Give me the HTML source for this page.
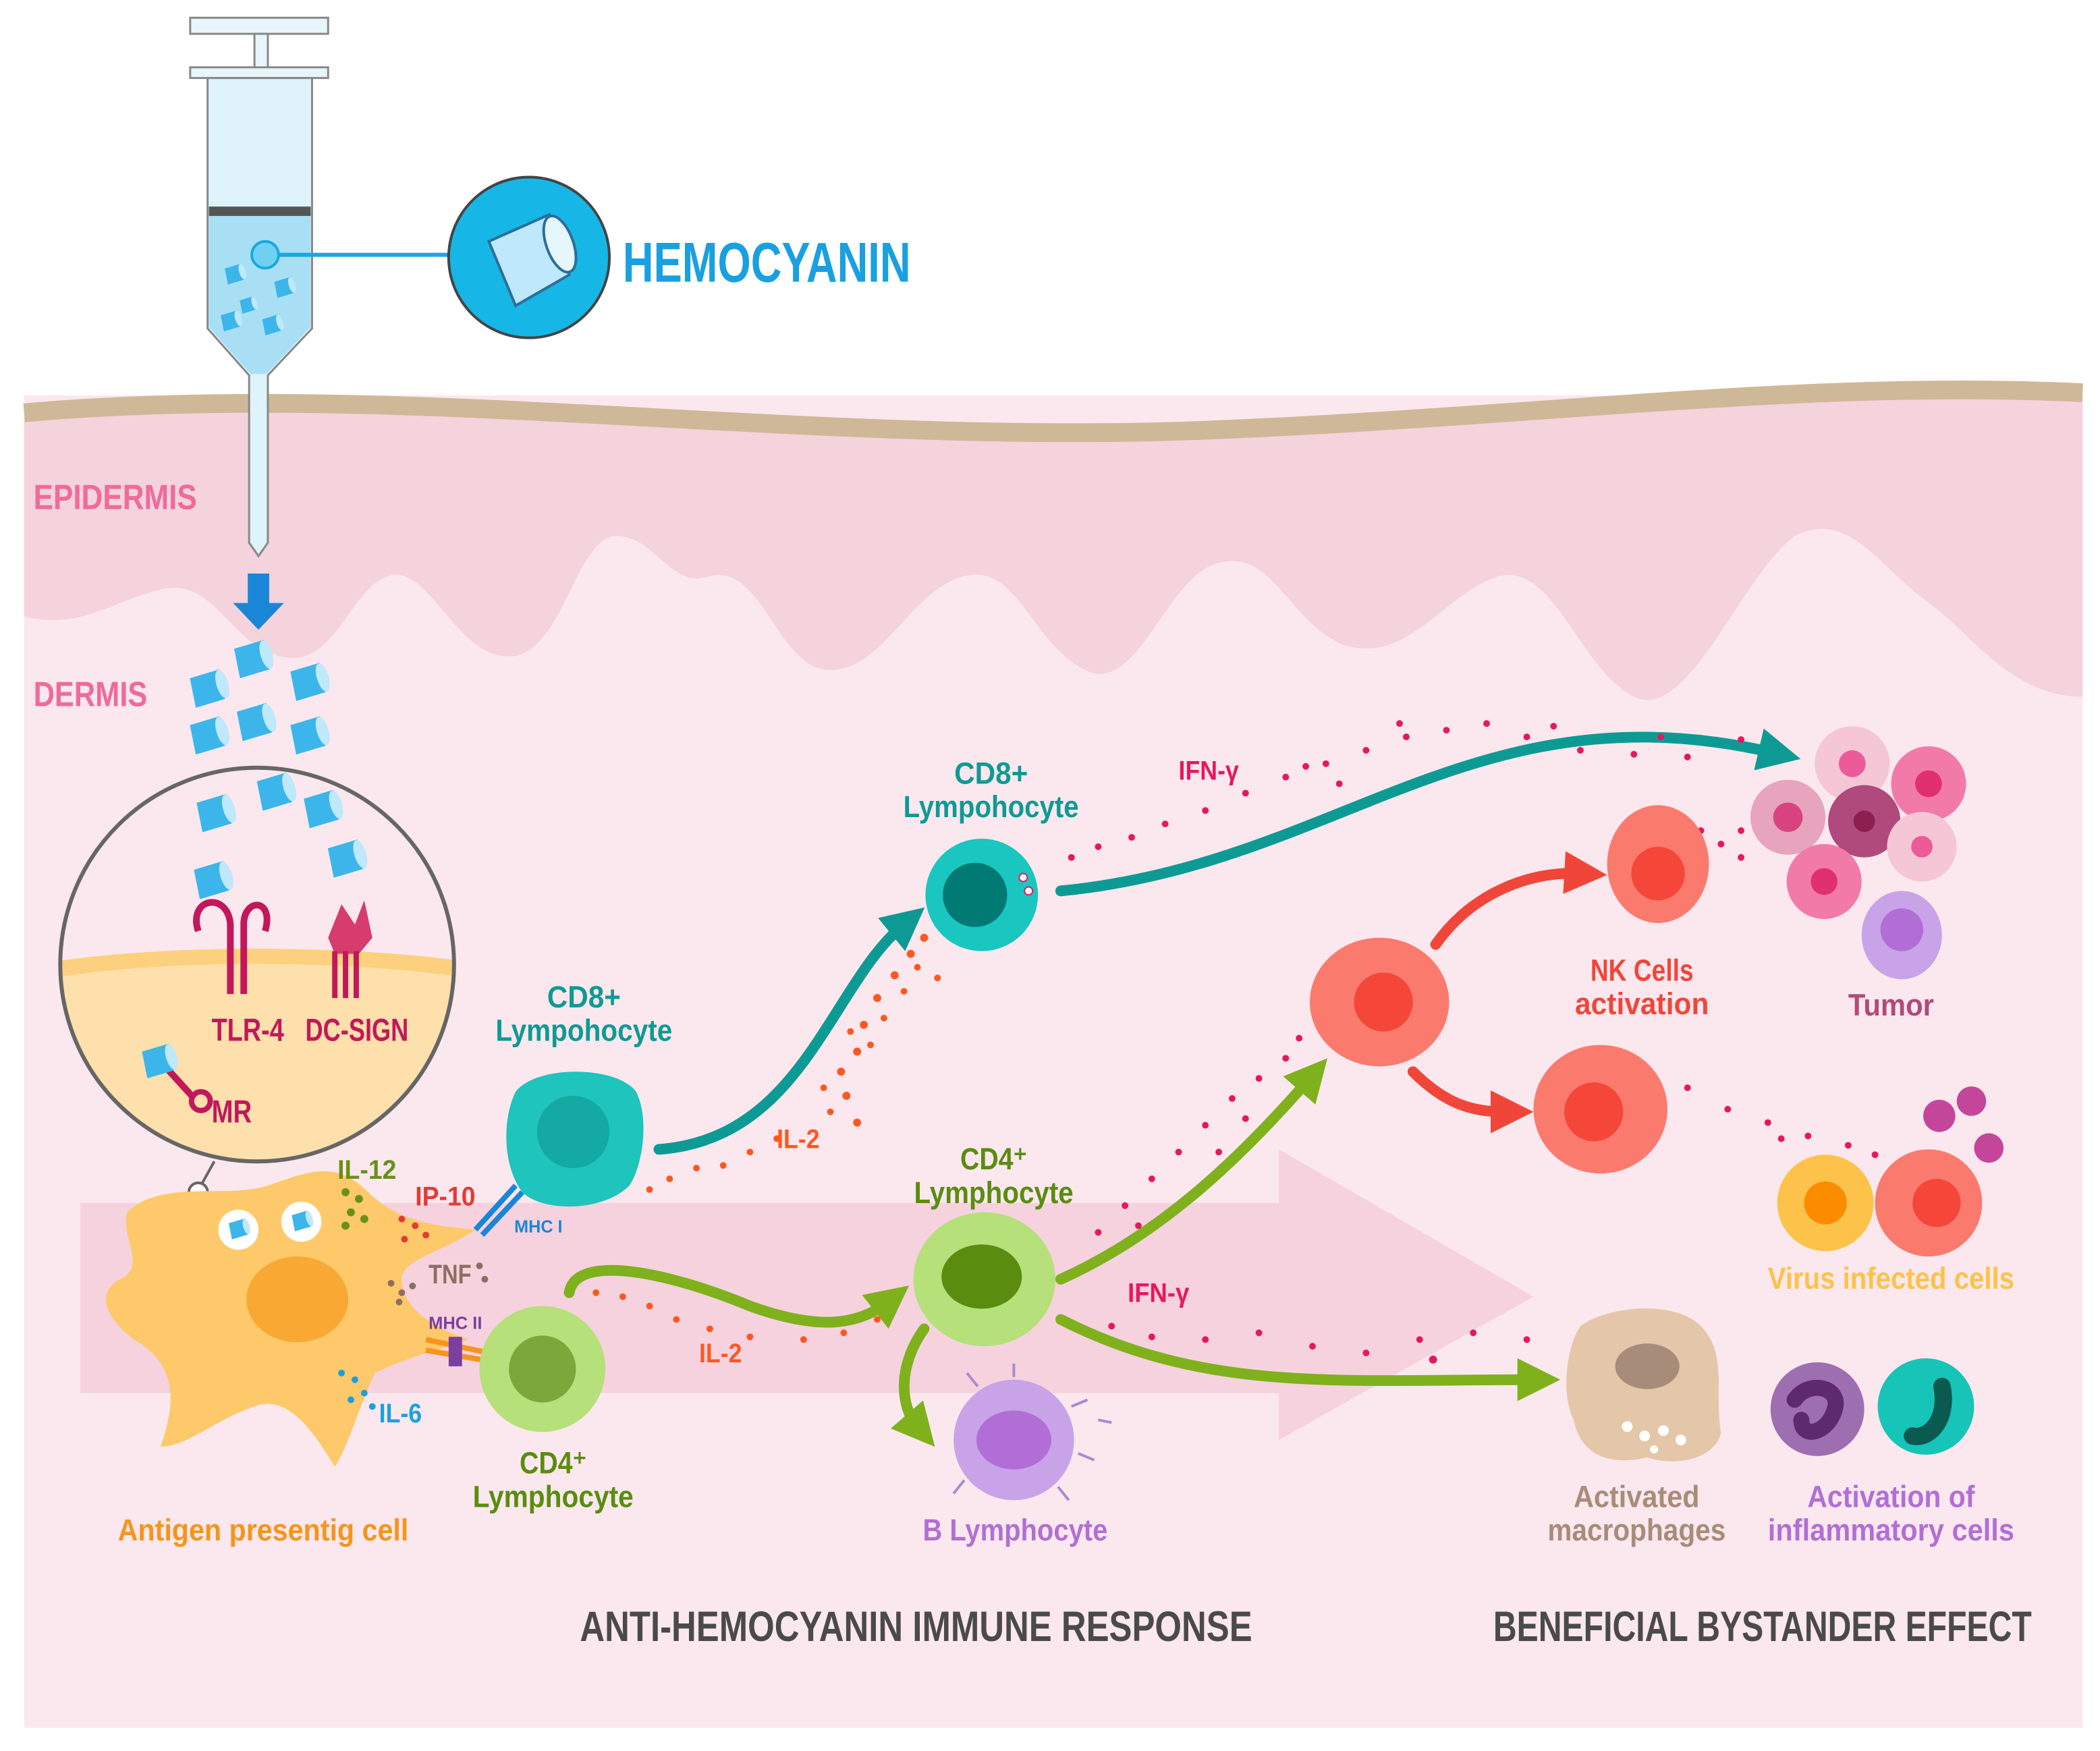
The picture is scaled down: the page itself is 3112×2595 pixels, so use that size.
<!DOCTYPE html>
<html><head><meta charset="utf-8">
<style>
html,body{margin:0;padding:0;background:#fff;}
svg{display:block;}
text{font-family:"Liberation Sans Narrow","Liberation Sans",sans-serif;font-weight:bold;}
</style></head>
<body>
<svg width="3112" height="2595" viewBox="0 0 1568 1307" xmlns="http://www.w3.org/2000/svg">
<defs>
<marker id="mt" markerWidth="4" markerHeight="4" refX="1.5" refY="2" orient="auto" markerUnits="strokeWidth"><path d="M0,0 L4,2 L0,4 Z" fill="#0e9a94"/></marker>
<marker id="mg" markerWidth="4" markerHeight="4" refX="1.5" refY="2" orient="auto" markerUnits="strokeWidth"><path d="M0,0 L4,2 L0,4 Z" fill="#7fb11c"/></marker>
<marker id="mr" markerWidth="4" markerHeight="4" refX="1.5" refY="2" orient="auto" markerUnits="strokeWidth"><path d="M0,0 L4,2 L0,4 Z" fill="#f0463a"/></marker>
<g id="cyl"><path d="M-12,-8 L8,-14 L12,6 L-8,12 Z" fill="#3cb6ea"/><ellipse cx="10" cy="-4" rx="4" ry="10" transform="rotate(-17 10 -4)" fill="#bfe8fa"/></g>
</defs>
<rect x="18" y="295" width="1537" height="995" fill="#fbe8ee"/>
<path d="M18,305 C300,280 600,330 900,318 C1150,308 1350,280 1555,290 L1555,520 C1500,520 1470,470 1440,450 C1400,420 1380,380 1340,400 C1300,430 1260,540 1220,520 C1180,500 1160,420 1120,430 C1080,440 1050,500 1000,480 C960,460 950,410 910,420 C870,430 850,520 810,500 C770,480 760,420 720,430 C680,440 660,500 620,500 C580,500 570,420 530,430 C500,440 490,400 460,400 C430,400 420,490 380,490 C340,490 320,420 290,430 C260,440 250,500 210,490 C170,480 160,430 120,440 C80,450 60,470 18,460 Z" fill="#f4d3dd"/>
<path d="M18,308 C300,283 600,333 900,321 C1150,311 1350,283 1555,293" fill="none" stroke="#cfb898" stroke-width="14"/>
<path d="M60,898 L955,898 L955,858 L1145,968 L955,1075 L955,1040 L60,1040 Z" fill="#f3c3d3" opacity="0.6"/>
<text x="25" y="380" font-size="26" fill="#f06a9a" textLength="122" lengthAdjust="spacingAndGlyphs">EPIDERMIS</text>
<text x="25" y="527" font-size="26" fill="#f06a9a" textLength="85" lengthAdjust="spacingAndGlyphs">DERMIS</text>
<rect x="142" y="13" width="103" height="12" fill="#e6f6fb" stroke="#888" stroke-width="1.5"/>
<rect x="190" y="25" width="10" height="28" fill="#e6f6fb" stroke="#888" stroke-width="1.5"/>
<rect x="142" y="50" width="103" height="8" fill="#e6f6fb" stroke="#888" stroke-width="1.5"/>
<path d="M155,58 L233,58 L233,245 L200,280 L200,405 L193,415 L186,405 L186,280 L155,245 Z" fill="#dff3fa" stroke="#888" stroke-width="1.5"/>
<path d="M156,160 L232,160 L232,244 L199,279 L187,279 L156,244 Z" fill="#a9dff5"/>
<rect x="156" y="154" width="76" height="7" fill="#555"/>
<line x1="198" y1="190" x2="335" y2="190" stroke="#1aa8dc" stroke-width="3"/>
<circle cx="198" cy="190" r="10" fill="#6fd0f2" stroke="#1aa8dc" stroke-width="2"/>
<use href="#cyl" transform="translate(175,205) scale(0.6)"/>
<use href="#cyl" transform="translate(212,215) scale(0.6)"/>
<use href="#cyl" transform="translate(185,228) scale(0.5)"/>
<use href="#cyl" transform="translate(172,240) scale(0.6)"/>
<use href="#cyl" transform="translate(203,243) scale(0.6)"/>
<circle cx="395" cy="192" r="60" fill="#16b6e6" stroke="#444" stroke-width="2"/>
<path d="M365,180 L410,160 L425,205 L385,228 Z" fill="#bfe8fa" stroke="#2a6f9a" stroke-width="2"/>
<ellipse cx="418" cy="182" rx="10" ry="22" transform="rotate(-20 418 182)" fill="#e6f6fd" stroke="#2a6f9a" stroke-width="2"/>
<text x="465" y="210" font-size="42" fill="#1aa0e0" textLength="215" lengthAdjust="spacingAndGlyphs">HEMOCYANIN</text>
<path d="M185,428 L201,428 L201,450 L212,450 L193,470 L174,450 L185,450 Z" fill="#1a86d8"/>
<use href="#cyl" transform="translate(155,515) scale(1.1)"/>
<use href="#cyl" transform="translate(188,493) scale(1.1)"/>
<use href="#cyl" transform="translate(230,510) scale(1.1)"/>
<use href="#cyl" transform="translate(155,550) scale(1.1)"/>
<use href="#cyl" transform="translate(190,540) scale(1.1)"/>
<use href="#cyl" transform="translate(230,550) scale(1.1)"/>
<clipPath id="cc"><circle cx="192" cy="720" r="147"/></clipPath>
<g clip-path="url(#cc)">
<rect x="40" y="570" width="310" height="300" fill="#fbe8ee"/>
<path d="M40,718 C120,705 260,705 350,718 L350,870 L40,870 Z" fill="#fde0ab"/>
<path d="M40,718 C120,705 260,705 350,718 L350,730 C260,716 120,716 40,730 Z" fill="#fcd07e"/>
</g>
<circle cx="192" cy="720" r="147" fill="none" stroke="#666" stroke-width="3"/>
<use href="#cyl" transform="translate(160,608) scale(1.1)"/>
<use href="#cyl" transform="translate(205,592) scale(1.1)"/>
<use href="#cyl" transform="translate(240,605) scale(1.1)"/>
<use href="#cyl" transform="translate(158,658) scale(1.1)"/>
<use href="#cyl" transform="translate(258,642) scale(1.1)"/>
<path d="M148,695 C140,670 170,665 172,690 L172,742 M182,742 L182,690 C182,670 205,670 198,695" fill="none" stroke="#c2185b" stroke-width="5"/>
<path d="M245,700 L255,675 L265,690 L272,672 L278,700 L268,712 L250,712 Z" fill="#d63c6e"/>
<path d="M250,710 L250,745 M258,710 L258,745 M266,710 L266,745" stroke="#c2185b" stroke-width="4"/>
<text x="158" y="777" font-size="24" fill="#c2185b" textLength="54" lengthAdjust="spacingAndGlyphs">TLR-4</text>
<text x="228" y="777" font-size="24" fill="#c2185b" textLength="77" lengthAdjust="spacingAndGlyphs">DC-SIGN</text>
<path d="M125,798 L145,820" stroke="#c2185b" stroke-width="5"/><circle cx="150" cy="822" r="7" fill="none" stroke="#c2185b" stroke-width="4"/>
<use href="#cyl" transform="translate(118,793) scale(1)"/>
<text x="158" y="838" font-size="24" fill="#c2185b" textLength="30" lengthAdjust="spacingAndGlyphs">MR</text>
<line x1="160" y1="867" x2="150" y2="885" stroke="#666" stroke-width="2"/>
<circle cx="148" cy="890" r="7" fill="#fff" stroke="#666" stroke-width="2"/>
<path d="M95,905 C120,880 170,895 200,885 C230,875 250,865 275,890 C295,910 320,915 355,918 C330,935 300,940 300,955 C300,975 320,990 350,1000 C320,1010 300,1015 280,1025 C270,1045 260,1080 250,1095 C235,1070 215,1040 190,1050 C160,1060 140,1080 120,1080 C130,1050 135,1020 100,1000 C80,985 70,965 90,955 C110,945 90,925 95,905 Z" fill="#fdc96a"/>
<ellipse cx="222" cy="970" rx="38" ry="32" fill="#f9a834"/>
<circle cx="178" cy="918" r="15" fill="#fff"/><use href="#cyl" transform="translate(178,918) scale(0.6)"/>
<circle cx="225" cy="912" r="15" fill="#fff"/><use href="#cyl" transform="translate(225,912) scale(0.6)"/>
<text x="252" y="880" font-size="20" fill="#6a8f1a" textLength="44" lengthAdjust="spacingAndGlyphs">IL-12</text>
<g fill="#6a8f1a"><circle cx="258" cy="890" r="3"/><circle cx="268" cy="895" r="3"/><circle cx="262" cy="905" r="3"/><circle cx="272" cy="910" r="3"/><circle cx="258" cy="915" r="3"/></g>
<text x="310" y="900" font-size="20" fill="#e53935" textLength="45" lengthAdjust="spacingAndGlyphs">IP-10</text>
<g fill="#e53935"><circle cx="300" cy="910" r="2.5"/><circle cx="310" cy="915" r="2.5"/><circle cx="302" cy="925" r="2.5"/><circle cx="318" cy="922" r="2.5"/></g>
<text x="320" y="958" font-size="20" fill="#8d6e63" textLength="32" lengthAdjust="spacingAndGlyphs">TNF</text>
<g fill="#8d6e63"><circle cx="292" cy="958" r="2.5"/><circle cx="300" cy="965" r="2.5"/><circle cx="308" cy="960" r="2.5"/><circle cx="298" cy="972" r="2.5"/><circle cx="358" cy="945" r="2.5"/><circle cx="362" cy="955" r="2.5"/></g>
<text x="283" y="1062" font-size="20" fill="#1aa0e0" textLength="32" lengthAdjust="spacingAndGlyphs">IL-6</text>
<g fill="#1aa0e0"><circle cx="255" cy="1025" r="2.5"/><circle cx="265" cy="1030" r="2.5"/><circle cx="272" cy="1040" r="2.5"/><circle cx="262" cy="1045" r="2.5"/><circle cx="278" cy="1050" r="2.5"/></g>
<text x="88" y="1150" font-size="23" fill="#f7941d" textLength="217" lengthAdjust="spacingAndGlyphs">Antigen presentig cell</text>
<path d="M355,918 L385,885 M360,922 L390,890" stroke="#1a86d8" stroke-width="4"/>
<text x="384" y="920" font-size="13" fill="#1a86d8" textLength="36" lengthAdjust="spacingAndGlyphs">MHC I</text>
<path d="M318,1000 L365,1010 M318,1008 L365,1016" stroke="#f7941d" stroke-width="4"/>
<rect x="335" y="998" width="10" height="22" fill="#7b3fa0"/>
<text x="320" y="992" font-size="13" fill="#7b3fa0" textLength="40" lengthAdjust="spacingAndGlyphs">MHC II</text>
<g fill="none" stroke-width="8" stroke-linecap="round">
<path d="M492,858 C600,850 620,735 675,690" stroke="#0e9a94" marker-end="url(#mt)"/>
<path d="M792,665 C1000,645 1100,510 1325,562" stroke="#0e9a94" marker-end="url(#mt)"/>
<path d="M425,965 C430,935 500,950 560,975 C610,993 640,990 663,972" stroke="#7fb11c" marker-end="url(#mg)"/>
<path d="M792,955 C870,920 930,860 978,805" stroke="#7fb11c" marker-end="url(#mg)"/>
<path d="M792,985 C900,1040 1000,1030 1145,1030" stroke="#7fb11c" marker-end="url(#mg)"/>
<path d="M690,992 C670,1020 672,1050 685,1065" stroke="#7fb11c" marker-end="url(#mg)"/>
<path d="M1072,705 C1100,665 1145,650 1180,652" stroke="#f0463a" marker-end="url(#mr)"/>
<path d="M1055,800 C1080,825 1100,830 1125,830" stroke="#f0463a" marker-end="url(#mr)"/>
</g>
<g fill="#ff5722">
<circle cx="640" cy="838" r="3"/><circle cx="632" cy="818" r="3"/><circle cx="628" cy="800" r="3"/><circle cx="640" cy="785" r="3"/><circle cx="645" cy="765" r="3"/><circle cx="655" cy="745" r="3"/><circle cx="668" cy="728" r="3"/><circle cx="680" cy="712" r="3"/><circle cx="690" cy="700" r="3"/><circle cx="650" cy="780" r="2.5"/><circle cx="620" cy="830" r="2.5"/><circle cx="660" cy="760" r="2.5"/><circle cx="700" cy="730" r="2.5"/><circle cx="675" cy="740" r="2.5"/><circle cx="685" cy="722" r="2.5"/><circle cx="615" cy="812" r="2.5"/><circle cx="635" cy="770" r="2.5"/>
<circle cx="560" cy="860" r="2.5"/><circle cx="540" cy="870" r="2.5"/><circle cx="520" cy="872" r="2.5"/><circle cx="500" cy="880" r="2.5"/><circle cx="485" cy="888" r="2.5"/><circle cx="580" cy="850" r="2.5"/>
<circle cx="445" cy="965" r="2.5"/><circle cx="465" cy="968" r="2.5"/><circle cx="485" cy="975" r="2.5"/><circle cx="505" cy="985" r="2.5"/><circle cx="530" cy="992" r="2.5"/><circle cx="560" cy="998" r="2.5"/><circle cx="600" cy="1000" r="2.5"/><circle cx="630" cy="995" r="2.5"/><circle cx="655" cy="985" r="2.5"/>
</g>
<text x="580" y="857" font-size="20" fill="#ff5722" textLength="32" lengthAdjust="spacingAndGlyphs">IL-2</text>
<text x="522" y="1017" font-size="20" fill="#ff5722" textLength="32" lengthAdjust="spacingAndGlyphs">IL-2</text>
<g fill="#e8175d">
<circle cx="800" cy="640" r="2.5"/><circle cx="820" cy="632" r="2.5"/><circle cx="845" cy="625" r="2.5"/><circle cx="870" cy="615" r="2.5"/><circle cx="900" cy="605" r="2.5"/><circle cx="930" cy="592" r="2.5"/><circle cx="960" cy="580" r="2.5"/><circle cx="990" cy="570" r="2.5"/><circle cx="1020" cy="560" r="2.5"/><circle cx="1050" cy="550" r="2.5"/><circle cx="1080" cy="545" r="2.5"/><circle cx="1110" cy="540" r="2.5"/><circle cx="1140" cy="550" r="2.5"/><circle cx="1180" cy="560" r="2.5"/><circle cx="1220" cy="563" r="2.5"/><circle cx="1260" cy="565" r="2.5"/><circle cx="1300" cy="552" r="2.5"/><circle cx="1000" cy="585" r="2.5"/><circle cx="1240" cy="550" r="2.5"/><circle cx="975" cy="572" r="2.5"/><circle cx="1045" cy="540" r="2.5"/><circle cx="1160" cy="542" r="2.5"/>
<circle cx="820" cy="920" r="2.5"/><circle cx="840" cy="900" r="2.5"/><circle cx="860" cy="880" r="2.5"/><circle cx="880" cy="860" r="2.5"/><circle cx="900" cy="840" r="2.5"/><circle cx="920" cy="820" r="2.5"/><circle cx="940" cy="805" r="2.5"/><circle cx="960" cy="790" r="2.5"/><circle cx="970" cy="775" r="2.5"/><circle cx="910" cy="860" r="2.5"/><circle cx="930" cy="835" r="2.5"/><circle cx="850" cy="915" r="2.5"/>
<circle cx="830" cy="990" r="2.5"/><circle cx="860" cy="998" r="2.5"/><circle cx="900" cy="1000" r="2.5"/><circle cx="940" cy="995" r="2.5"/><circle cx="980" cy="1005" r="2.5"/><circle cx="1020" cy="1010" r="2.5"/><circle cx="1060" cy="1000" r="2.5"/><circle cx="1100" cy="995" r="2.5"/><circle cx="1140" cy="1000" r="2.5"/><circle cx="1070" cy="1015" r="3"/>
<circle cx="1270" cy="620" r="2.5"/><circle cx="1285" cy="630" r="2.5"/><circle cx="1300" cy="620" r="2.5"/><circle cx="1300" cy="640" r="2.5"/>
<circle cx="1260" cy="812" r="2.5"/><circle cx="1290" cy="828" r="2.5"/><circle cx="1320" cy="838" r="2.5"/><circle cx="1350" cy="848" r="2.5"/><circle cx="1380" cy="855" r="2.5"/><circle cx="1400" cy="862" r="2.5"/><circle cx="1330" cy="850" r="2.5"/>
</g>
<text x="880" y="582" font-size="20" fill="#e8175d" textLength="45" lengthAdjust="spacingAndGlyphs">IFN-γ</text>
<text x="842" y="972" font-size="20" fill="#e8175d" textLength="46" lengthAdjust="spacingAndGlyphs">IFN-γ</text>
<path d="M385,815 C400,795 460,795 475,815 C485,835 480,870 470,885 C450,905 405,905 390,890 C375,870 375,835 385,815 Z" fill="#1fc4bd"/>
<circle cx="428" cy="845" r="27" fill="#14a9a2"/>
<text x="436" y="752" font-size="23" fill="#0e9a94" text-anchor="middle" textLength="55" lengthAdjust="spacingAndGlyphs">CD8+</text>
<text x="436" y="777" font-size="23" fill="#0e9a94" text-anchor="middle" textLength="132" lengthAdjust="spacingAndGlyphs">Lympohocyte</text>
<circle cx="733" cy="668" r="42" fill="#19c6c0"/><circle cx="728" cy="668" r="24" fill="#007a72"/>
<circle cx="764" cy="655" r="3" fill="#fff" stroke="#e8175d"/><circle cx="768" cy="665" r="3" fill="#fff" stroke="#e8175d"/>
<text x="740" y="585" font-size="23" fill="#0e9a94" text-anchor="middle" textLength="55" lengthAdjust="spacingAndGlyphs">CD8+</text>
<text x="740" y="610" font-size="23" fill="#0e9a94" text-anchor="middle" textLength="131" lengthAdjust="spacingAndGlyphs">Lympohocyte</text>
<circle cx="405" cy="1022" r="47" fill="#b5e07a"/><circle cx="405" cy="1022" r="25" fill="#7aa83a"/>
<text x="413" y="1100" font-size="23" fill="#5a8c10" text-anchor="middle" textLength="50" lengthAdjust="spacingAndGlyphs">CD4⁺</text>
<text x="413" y="1125" font-size="23" fill="#5a8c10" text-anchor="middle" textLength="120" lengthAdjust="spacingAndGlyphs">Lymphocyte</text>
<ellipse cx="735" cy="955" rx="53" ry="50" fill="#b5e07a"/><ellipse cx="733" cy="953" rx="30" ry="24" fill="#5a8c10"/>
<text x="742" y="873" font-size="23" fill="#5a8c10" text-anchor="middle" textLength="50" lengthAdjust="spacingAndGlyphs">CD4⁺</text>
<text x="742" y="898" font-size="23" fill="#5a8c10" text-anchor="middle" textLength="119" lengthAdjust="spacingAndGlyphs">Lymphocyte</text>
<circle cx="757" cy="1075" r="45" fill="#c9a3e8"/><ellipse cx="757" cy="1075" rx="28" ry="22" fill="#b16fd6"/>
<g stroke="#a98bd0" stroke-width="2"><path d="M757,1028 L757,1018 M800,1050 L812,1045 M805,1085 L817,1090 M790,1110 L798,1120 M720,1105 L712,1115 M730,1035 L722,1025 M820,1060 L830,1062"/></g>
<text x="758" y="1150" font-size="23" fill="#b16fd6" text-anchor="middle" textLength="138" lengthAdjust="spacingAndGlyphs">B Lymphocyte</text>
<ellipse cx="1030" cy="748" rx="52" ry="48" fill="#fb7a6e"/><circle cx="1033" cy="748" r="22" fill="#f5463a"/>
<ellipse cx="1238" cy="645" rx="38" ry="44" fill="#fb7a6e"/><circle cx="1238" cy="652" r="20" fill="#f5463a"/>
<ellipse cx="1195" cy="828" rx="50" ry="48" fill="#fb7a6e"/><circle cx="1190" cy="830" r="22" fill="#f5463a"/>
<text x="1226" y="732" font-size="23" fill="#f0463a" text-anchor="middle" textLength="77" lengthAdjust="spacingAndGlyphs">NK Cells</text>
<text x="1226" y="757" font-size="23" fill="#f0463a" text-anchor="middle" textLength="100" lengthAdjust="spacingAndGlyphs">activation</text>
<circle cx="1383" cy="570" r="28" fill="#f5c6d6"/><circle cx="1383" cy="570" r="10" fill="#ec5a9a"/>
<circle cx="1440" cy="585" r="28" fill="#f27aa8"/><circle cx="1440" cy="585" r="10" fill="#e0306f"/>
<circle cx="1335" cy="610" r="28" fill="#e7a4bd"/><circle cx="1335" cy="610" r="11" fill="#d9437f"/>
<circle cx="1392" cy="613" r="27" fill="#b04a7c"/><circle cx="1392" cy="613" r="8" fill="#8c1e50"/>
<circle cx="1435" cy="632" r="26" fill="#f5c6d6"/><circle cx="1435" cy="632" r="8" fill="#ec5a9a"/>
<circle cx="1362" cy="658" r="28" fill="#f27aa8"/><circle cx="1362" cy="658" r="10" fill="#e0306f"/>
<ellipse cx="1420" cy="698" rx="30" ry="33" fill="#c9a3e8"/><circle cx="1420" cy="694" r="16" fill="#b16fd6"/>
<text x="1412" y="758" font-size="23" fill="#b04a7c" text-anchor="middle" textLength="64" lengthAdjust="spacingAndGlyphs">Tumor</text>
<circle cx="1448" cy="833" r="12" fill="#c4469a"/><circle cx="1472" cy="822" r="11" fill="#c4469a"/><circle cx="1485" cy="857" r="11" fill="#c4469a"/>
<circle cx="1363" cy="898" r="36" fill="#fdc24a"/><circle cx="1363" cy="898" r="16" fill="#fb8c00"/>
<circle cx="1440" cy="898" r="40" fill="#fb7a6e"/><circle cx="1446" cy="898" r="18" fill="#f5463a"/>
<text x="1412" y="962" font-size="23" fill="#fdc24a" text-anchor="middle" textLength="184" lengthAdjust="spacingAndGlyphs">Virus infected cells</text>
<path d="M1180,990 C1200,975 1250,970 1270,990 C1290,1010 1280,1040 1285,1070 C1280,1090 1250,1095 1230,1088 C1200,1095 1180,1085 1175,1060 C1165,1040 1170,1005 1180,990 Z" fill="#e4c7a8"/>
<ellipse cx="1230" cy="1020" rx="24" ry="17" fill="#a88c7a"/>
<g fill="#fff"><circle cx="1215" cy="1065" r="4"/><circle cx="1228" cy="1072" r="4"/><circle cx="1242" cy="1068" r="4"/><circle cx="1255" cy="1075" r="4"/><circle cx="1235" cy="1082" r="3"/></g>
<text x="1222" y="1125" font-size="23" fill="#a88c7a" text-anchor="middle" textLength="94" lengthAdjust="spacingAndGlyphs">Activated</text>
<text x="1222" y="1150" font-size="23" fill="#a88c7a" text-anchor="middle" textLength="133" lengthAdjust="spacingAndGlyphs">macrophages</text>
<circle cx="1357" cy="1052" r="35" fill="#9e6fb0"/><path d="M1340,1045 C1350,1030 1375,1035 1370,1052 C1365,1070 1345,1075 1345,1060" fill="none" stroke="#5e2a6e" stroke-width="12" stroke-linecap="round"/>
<circle cx="1438" cy="1050" r="36" fill="#17c4b8"/><path d="M1450,1035 C1455,1060 1440,1075 1428,1072" fill="none" stroke="#0a5a50" stroke-width="13" stroke-linecap="round"/>
<text x="1412" y="1125" font-size="23" fill="#b16fd6" text-anchor="middle" textLength="125" lengthAdjust="spacingAndGlyphs">Activation of</text>
<text x="1412" y="1150" font-size="23" fill="#b16fd6" text-anchor="middle" textLength="184" lengthAdjust="spacingAndGlyphs">inflammatory cells</text>
<text x="433" y="1225" font-size="32" fill="#4a4a4a" textLength="502" lengthAdjust="spacingAndGlyphs">ANTI-HEMOCYANIN IMMUNE RESPONSE</text>
<text x="1115" y="1225" font-size="32" fill="#4a4a4a" textLength="402" lengthAdjust="spacingAndGlyphs">BENEFICIAL BYSTANDER EFFECT</text>
</svg>
</body></html>
